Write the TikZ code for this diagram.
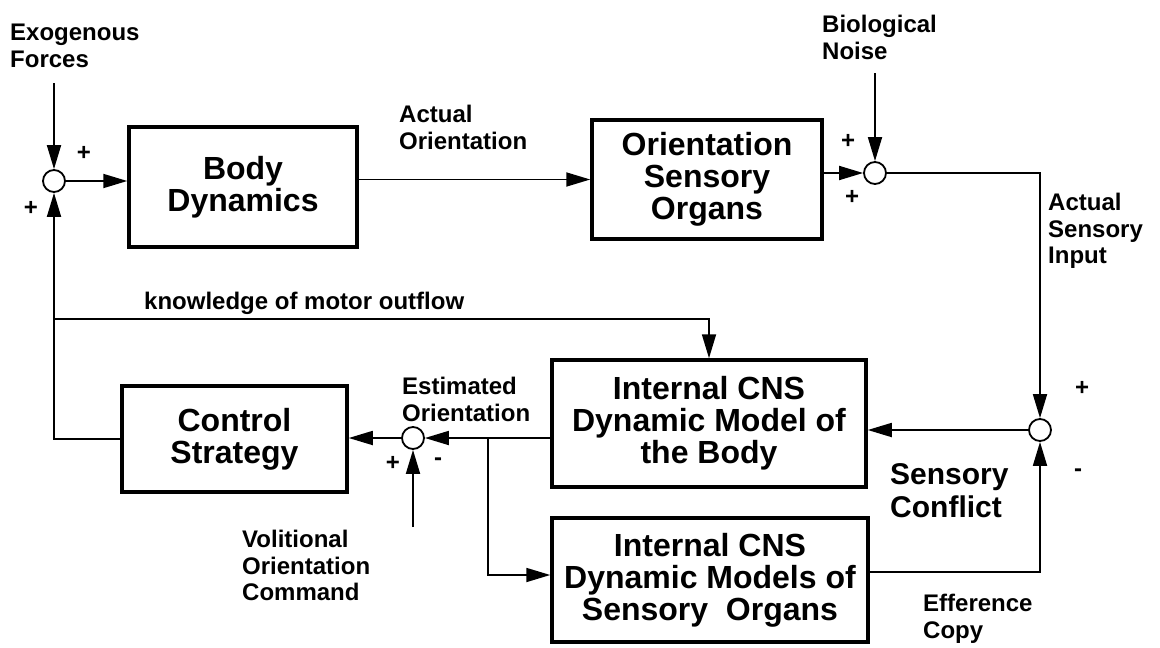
\documentclass[tikz,border=0pt]{standalone}
\usepackage{fontspec}
\setmainfont{Liberation Sans}
\usetikzlibrary{arrows.meta,calc}
\begin{document}
\begin{tikzpicture}[x=1pt,y=-1pt,
  blk/.style={draw,line width=3.5pt,align=center,inner sep=0pt,
    font=\fontsize{32}{32}\selectfont\bfseries},
  sumj/.style={draw,circle,line width=1.8pt,minimum size=22pt,inner sep=0pt,fill=white},
  lbl/.style={anchor=north west,align=left,inner sep=0pt,
    font=\fontsize{24}{26.7}\selectfont\bfseries},
  sgn/.style={inner sep=0pt,font=\fontsize{24}{24}\selectfont\bfseries},
  wire/.style={line width=1.8pt},
  arr/.style={wire,-{Triangle[length=24pt,width=14pt]}}]
\useasboundingbox (0,0) rectangle (1160,648);
% blocks
\node[blk,minimum width=228pt,minimum height=120pt] (bd) at (243,187) {Body\\Dynamics};
\node[blk,minimum width=230pt,minimum height=119pt] (oso) at (707,179.5) {Orientation\\Sensory\\Organs};
\node[blk,minimum width=225pt,minimum height=106pt] (cs) at (234.5,439) {Control\\Strategy};
\node[blk,minimum width=314pt,minimum height=127pt] (im) at (709,423.5) {Internal CNS\\Dynamic Model of\\the Body};
\node[blk,minimum width=316pt,minimum height=124pt] (ims) at (710,580) {Internal CNS\\Dynamic Models of\\Sensory\ \ Organs};
% summing junctions
\node[sumj] (s1) at (54,181) {};
\node[sumj] (s2) at (875,173) {};
\node[sumj] (s3) at (1040,430) {};
\node[sumj] (s4) at (413,438) {};
% free ends
\coordinate (ex) at (54,83);
\coordinate (bn) at (875,73);
\coordinate (vo) at (413,527);
\coordinate (kn) at (54,319);
\coordinate (br) at (488,438);
% connectors
\draw[arr] (ex) -- (s1.north);
\draw[arr] (s1.east) -- (s1 -| bd.west);
\draw[arr] (bd.east |- oso.west) -- (oso.west);
\draw[arr] (oso.east |- s2) -- (s2.west);
\draw[arr] (bn) -- (s2.north);
\draw[arr] (s2.east) -| (s3.north);
\draw[arr] (s3.west) -- (s3 -| im.east);
\draw[arr] ([yshift=8pt]ims.east) -| (s3.south);
\draw[arr] (im.west |- s4) -- (s4.east);
\draw[arr] (br) |- ([yshift=5pt]ims.west);
\draw[arr] (s4.west) -- (s4 -| cs.east);
\draw[arr] (vo) -- (s4.south);
\draw[arr] (cs.west) -| (s1.south);
\draw[arr] (kn) -| (im.north);
% labels
\node[lbl] (lex) at (10,24) {Exogenous\\Forces};
\node[lbl] (lao) at (399,105) {Actual\\Orientation};
\node[lbl] (lbn) at (822,15) {Biological\\Noise};
\node[lbl] (lasi) at (1048,193) {Actual\\Sensory\\Input};
\node[lbl] (lkn) at (144,292) {knowledge of motor outflow};
\node[lbl] (leo) at (402,377) {Estimated\\Orientation};
\node[lbl] (lvo) at (242,530) {Volitional\\Orientation\\Command};
\node[lbl,font=\fontsize{30}{33}\selectfont\bfseries] (lsc) at (890,463) {Sensory\\Conflict};
\node[lbl] (lef) at (923,594) {Efference\\Copy};
% signs
\node[sgn] (p1) at (84,153) {+};
\node[sgn] (p2) at (31,208) {+};
\node[sgn] (p3) at (848,141) {+};
\node[sgn] (p4) at (852,197) {+};
\node[sgn] (p5) at (1082,388) {+};
\node[sgn] (m5) at (1078,473) {-};
\node[sgn] (p6) at (393,463) {+};
\node[sgn] (m6) at (438,462) {-};
\end{tikzpicture}
\end{document}
